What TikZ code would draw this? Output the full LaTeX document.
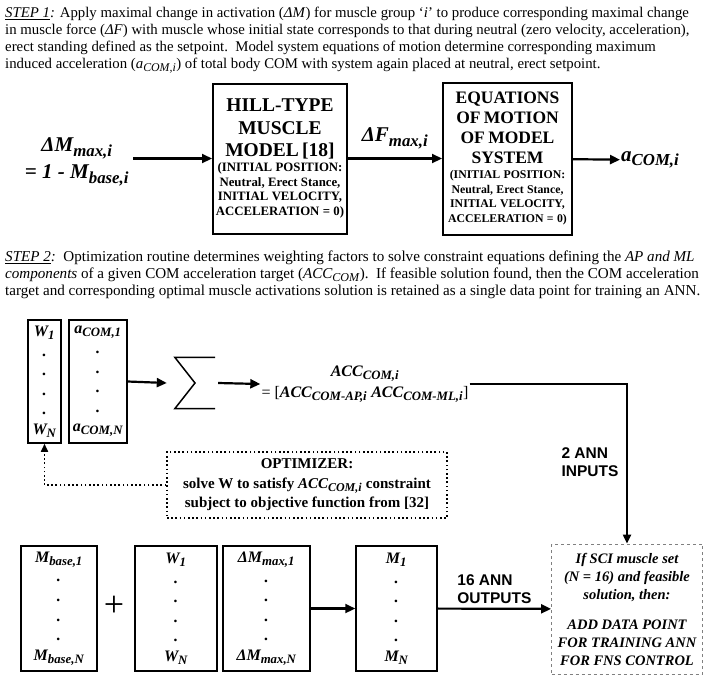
\documentclass[tikz,border=0pt]{standalone}
\usepackage{fontspec}
\setmainfont{Liberation Serif}
\setsansfont{Liberation Sans}
\usetikzlibrary{arrows.meta,positioning}
\renewcommand{\defaultscriptratio}{.8}
\newcommand{\fs}[2]{\fontsize{#1}{#2}\selectfont}
\tikzset{
  para/.style={anchor=north west,align=left,inner sep=0pt,font=\fs{14.8}{17}},
  bigbox/.style={draw,line width=2pt,align=center,inner sep=2pt},
  colbox/.style={draw,line width=1.5pt,align=center,minimum height=125pt,inner sep=1pt,font=\fs{16}{19.6}\bfseries\itshape},
  arr/.style={line width=2.2pt,-{Triangle[length=10pt,width=9pt]}},
  dotarr/.style={line width=1.6pt,dash pattern=on 1.6pt off 2.6pt,-{Triangle[length=8pt,width=7pt]}},
  sanslab/.style={align=left,inner sep=0pt,font=\fs{15.5}{18}\sffamily\bfseries},
}
\begin{document}
\begin{tikzpicture}[x=1pt,y=-1pt]
\useasboundingbox (0,0) rectangle (704,683);
% step 1 text
\node[para] (step1) at (5,7) {\textit{\underline{STEP 1}:} Apply maximal change in activation (\textit{ΔM}) for muscle group ‘\textit{i}’ to produce corresponding maximal change\\
in muscle force (\textit{ΔF}) with muscle whose initial state corresponds to that during neutral (zero velocity, acceleration),\\
erect standing defined as the setpoint.\ \ Model system equations of motion determine corresponding maximum\\
induced acceleration (\textit{a\textsubscript{COM,i}}) of total body COM with system again placed at neutral, erect setpoint.};
% step 1 chain
\node[align=center,inner sep=4pt,font=\fs{21}{27}\bfseries\itshape] (dM) at (77,162) {ΔM\textsubscript{max,i}\\= 1 - M\textsubscript{base,i}};
\node[bigbox,minimum width=134pt,minimum height=150pt,text width=130pt] (hill) at (280,158.5)
  {{\fs{19.5}{22.5}\bfseries HILL-TYPE\\MUSCLE\\MODEL [18]\par}
   {\fs{12.8}{14.7}\bfseries (INITIAL POSITION:\\Neutral, Erect Stance,\\INITIAL VELOCITY,\\ACCELERATION = 0)\par}};
\node[bigbox,minimum width=129pt,minimum height=152pt,text width=125pt] (eom) at (507.5,158.5)
  {{\fs{17.5}{20}\bfseries EQUATIONS\\OF MOTION\\OF MODEL\\SYSTEM\par}
   {\fs{11.8}{14.7}\bfseries (INITIAL POSITION:\\Neutral, Erect Stance,\\INITIAL VELOCITY,\\ACCELERATION = 0)\par}};
\node[anchor=west,inner sep=1pt,font=\fs{21}{25}\bfseries\itshape] (aCOM) at (620,160) {a\textsubscript{COM,i}};
\draw[arr] (dM.east |- hill.west) -- (hill.west);
\draw[arr] (hill) -- node[above=5pt,font=\fs{21}{25}\bfseries\itshape] (dF) {ΔF\textsubscript{max,i}} (eom);
\draw[arr] (eom) -- (aCOM);
% step 2 text
\node[para,font=\fs{15.1}{17}] (step2) at (5,251) {\textit{\underline{STEP 2}:}\ \ Optimization routine determines weighting factors to solve constraint equations defining the \textit{AP and ML}\\
\textit{components} of a given COM acceleration target (\textit{ACC\textsubscript{COM}}).\ \ If feasible solution found, then the COM acceleration\\
target and corresponding optimal muscle activations solution is retained as a single data point for training an ANN.};
% weights and accelerations
\node[colbox,minimum width=33pt,minimum height=123pt] (wcol) at (44.5,381.5) {W\textsubscript{1}\\.\\.\\.\\.\\W\textsubscript{N}};
\node[colbox,minimum width=58pt,minimum height=123pt] (acol) at (98,381.5) {a\textsubscript{COM,1}\\.\\.\\.\\.\\a\textsubscript{COM,N}};
\node[minimum width=40pt,minimum height=51pt,inner sep=0pt] (sum) at (195,383) {};
\draw[line width=1.5pt] (sum.north east) -- (sum.north west) -- (sum.center) -- (sum.south west) -- (sum.south east);
\node[align=center,inner sep=1pt,font=\fs{16}{21}] (acc) at (365,384)
  {\textbf{\textit{ACC\textsubscript{COM,i}}}\\= [\textbf{\textit{ACC\textsubscript{COM-AP,i}}} \textbf{\textit{ACC\textsubscript{COM-ML,i}}}]};
\draw[arr] (acol.east) -- ([xshift=-8pt]sum.west);
\draw[arr] ([xshift=3pt]sum.east) -- (acc.west);
% optimizer
\node[draw,line width=1.6pt,dash pattern=on 1.6pt off 2.6pt,minimum width=280pt,minimum height=66pt,align=center,inner sep=1pt,font=\fs{15}{19.5}\bfseries] (opt) at (307,485)
  {OPTIMIZER:\\solve W to satisfy \textit{ACC\textsubscript{COM,i}} constraint\\subject to objective function from [32]};
\draw[dotarr] (opt.west) -| (wcol.south);
% step 2 bottom row
\node[colbox,minimum width=76pt] (mbase) at (59,608.5) {M\textsubscript{base,1}\\.\\.\\.\\.\\M\textsubscript{base,N}};
\node[inner sep=0pt,font=\fs{36}{36}] (plus) at (114,606) {+};
\node[colbox,minimum width=82pt] (wcol2) at (176,608.5) {W\textsubscript{1}\\.\\.\\.\\.\\W\textsubscript{N}};
\node[colbox,minimum width=87pt] (dmcol) at (266.5,608.5) {ΔM\textsubscript{max,1}\\.\\.\\.\\.\\ΔM\textsubscript{max,N}};
\node[colbox,minimum width=81pt] (mcol) at (396.5,608.5) {M\textsubscript{1}\\.\\.\\.\\.\\M\textsubscript{N}};
\node[draw=gray,dashed,line width=0.8pt,minimum width=151pt,minimum height=130pt,align=center,inner sep=1pt,font=\fs{14.5}{18}\bfseries\itshape] (fbox) at (627,609)
  {If SCI muscle set\\(N = 16) and feasible\\solution, then:\\[12pt]ADD DATA POINT\\FOR TRAINING ANN\\FOR FNS CONTROL};
\draw[arr] (dmcol) -- (mcol);
\draw[arr] (mcol) -- node[above=4pt,sanslab] (annout) {16 ANN\\OUTPUTS} (fbox);
% ann inputs
\draw[line width=2pt,-{Triangle[length=9pt,width=8pt]}] (acc.east) -| (fbox.north);
\node[sanslab] (annin) at (590,462) {2 ANN\\INPUTS};
\end{tikzpicture}
\end{document}
